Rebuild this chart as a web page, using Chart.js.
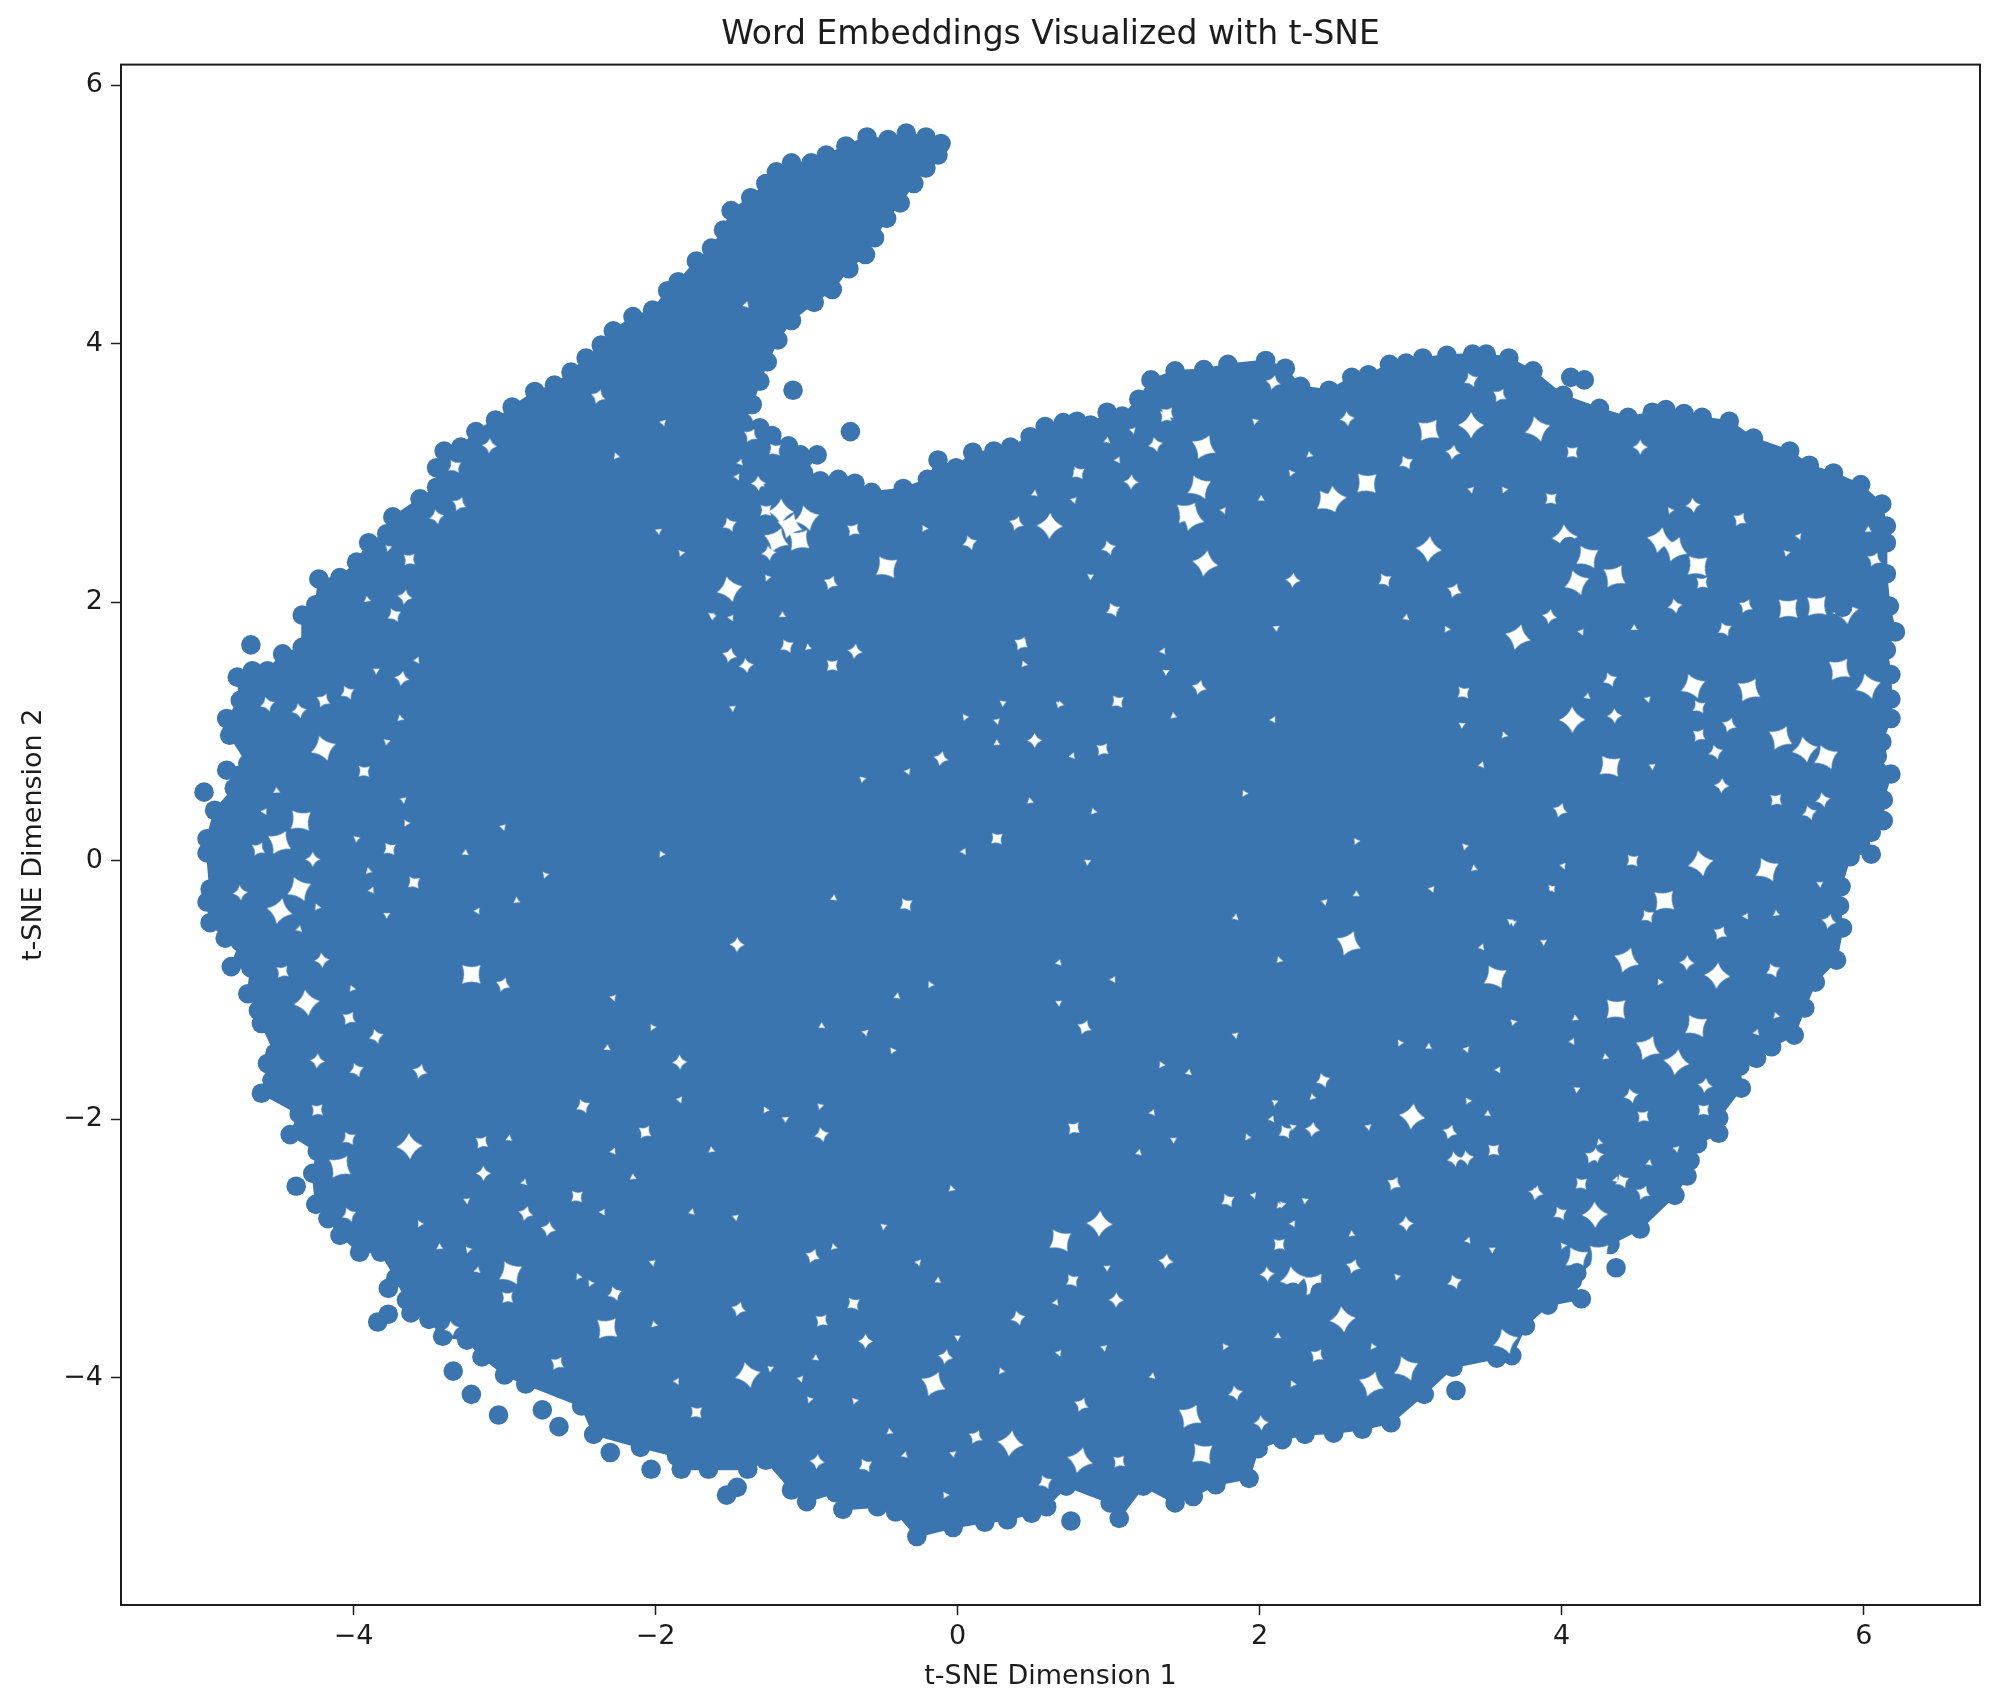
<!DOCTYPE html>
<html>
<head>
<meta charset="utf-8">
<title>Word Embeddings Visualized with t-SNE</title>
<script src="https://cdn.jsdelivr.net/npm/chart.js@4"></script>
<style>
  html, body { margin: 0; padding: 0; background: #fff; }
  canvas { display: block; }
</style>
</head>
<body>
<canvas id="tsneChart" width="1994" height="1696"></canvas>
<script>
// Tick positions for both axes
const xTickValues = [-4, -2, 0, 2, 4, 6];
const yTickValues = [-4, -2, 0, 2, 4, 6];

// Points read along the rim of the cloud, clockwise from the tip of the finger.
// The middle is too dense to read one by one, so the rim is also filled as a shape.
const rimPoints = [
  [-0.11,5.55],[-0.13,5.46],[-0.21,5.36],[-0.29,5.24],[-0.38,5.09],[-0.47,4.97],[-0.55,4.82],[-0.61,4.69],[-0.72,4.58],[-0.83,4.42],
  [-0.95,4.32],[-1.10,4.18],[-1.19,4.03],[-1.26,3.86],[-1.31,3.71],[-1.36,3.53],[-1.42,3.39],[-1.31,3.35],[-1.23,3.29],[-1.12,3.21],
  [-1.04,3.14],[-0.93,3.14],[-1.02,3.00],[-0.91,2.94],[-0.79,2.95],[-0.68,2.92],[-0.57,2.85],[-0.36,2.88],[-0.20,2.95],[-0.13,3.10],
  [-0.01,3.04],[0.10,3.16],[0.24,3.17],[0.35,3.20],[0.48,3.28],[0.58,3.36],[0.70,3.39],[0.79,3.40],[0.88,3.37],[0.99,3.47],
  [1.09,3.44],[1.20,3.57],[1.28,3.72],[1.44,3.79],[1.63,3.80],[1.79,3.84],[2.04,3.87],[2.17,3.81],[2.27,3.67],[2.46,3.64],
  [2.61,3.74],[2.72,3.76],[2.86,3.84],[2.97,3.85],[3.08,3.89],[3.24,3.91],[3.41,3.92],[3.50,3.92],[3.65,3.89],[3.81,3.79],
  [4.01,3.60],[4.25,3.50],[4.44,3.43],[4.60,3.47],[4.69,3.49],[4.81,3.46],[4.93,3.43],[5.11,3.40],[5.27,3.27],[5.51,3.17],
  [5.64,3.06],[5.80,3.00],[5.98,2.91],[6.12,2.76],[6.15,2.59],[6.15,2.46],[6.15,2.22],[6.17,1.97],[6.21,1.77],[6.15,1.63],
  [6.18,1.44],[6.18,1.25],[6.18,1.10],[6.12,0.92],[6.09,0.81],[6.18,0.67],[6.13,0.47],[6.13,0.31],[6.05,0.22],[5.98,0.12],[5.91,0.03],[5.85,-0.20],
  [5.84,-0.35],[5.86,-0.52],[5.82,-0.77],[5.68,-0.94],[5.61,-1.14],[5.54,-1.35],[5.39,-1.44],[5.29,-1.53],[5.18,-1.59],[5.19,-1.76],
  [5.04,-1.99],[5.04,-2.11],[4.90,-2.19],[4.85,-2.32],[4.83,-2.44],[4.75,-2.59],[4.52,-2.85],[4.32,-2.97],[4.07,-3.25],[4.13,-3.39],
  [3.91,-3.44],[3.76,-3.60],[3.67,-3.83],[3.57,-3.85],[3.28,-3.92],[3.09,-4.13],[2.87,-4.35],[2.68,-4.40],[2.49,-4.43],[2.30,-4.44],
  [2.15,-4.48],[1.99,-4.55],[1.93,-4.78],[1.71,-4.83],[1.56,-4.92],[1.44,-4.97],[1.23,-4.84],[1.07,-5.09],[1.01,-4.97],[0.72,-4.84],
  [0.59,-5.00],[0.49,-5.05],[0.33,-5.10],[0.18,-5.12],[-0.03,-5.16],[-0.27,-5.23],[-0.41,-5.04],[-0.53,-5.00],[-0.76,-5.02],[-0.81,-4.89],
  [-1.00,-4.96],[-1.10,-4.87],[-1.27,-4.64],[-1.39,-4.71],[-1.65,-4.71],[-1.83,-4.71],[-1.86,-4.61],[-2.10,-4.54],[-2.41,-4.44],[-2.49,-4.22],
  [-2.86,-4.05],[-3.00,-3.98],[-3.15,-3.84],[-3.25,-3.71],[-3.41,-3.68],[-3.50,-3.55],[-3.62,-3.50],[-3.65,-3.40],[-3.72,-3.23],[-3.82,-3.03],
  [-3.96,-3.03],[-4.09,-2.90],[-4.17,-2.77],[-4.25,-2.66],[-4.27,-2.42],[-4.24,-2.25],[-4.42,-2.12],[-4.36,-1.96],[-4.61,-1.80],[-4.54,-1.70],
  [-4.57,-1.57],[-4.52,-1.49],[-4.61,-1.26],[-4.63,-1.16],[-4.70,-1.03],[-4.68,-0.83],[-4.81,-0.82],[-4.75,-0.63],[-4.85,-0.60],[-4.95,-0.48],
  [-4.97,-0.32],[-4.95,-0.22],[-4.97,0.06],[-4.97,0.17],[-4.92,0.39],[-4.79,0.56],[-4.84,0.70],[-4.70,0.75],[-4.82,0.97],[-4.84,1.10],
  [-4.75,1.24],[-4.77,1.42],[-4.67,1.47],[-4.57,1.47],[-4.47,1.60],[-4.34,1.65],[-4.34,1.90],[-4.25,1.98],[-4.23,2.18],[-4.09,2.19],
  [-3.98,2.31],[-3.90,2.46],[-3.78,2.53],[-3.74,2.66],[-3.56,2.80],[-3.45,2.89],[-3.45,3.04],[-3.40,3.17],[-3.29,3.20],[-3.19,3.32],
  [-3.06,3.41],[-2.95,3.51],[-2.80,3.63],[-2.67,3.68],[-2.56,3.78],[-2.46,3.89],[-2.36,3.99],[-2.28,4.10],[-2.15,4.21],[-2.02,4.26],
  [-1.92,4.41],[-1.85,4.48],[-1.73,4.64],[-1.63,4.74],[-1.55,4.88],[-1.50,5.03],[-1.37,5.13],[-1.27,5.24],[-1.20,5.33],[-1.10,5.40],
  [-0.97,5.40],[-0.87,5.46],[-0.74,5.53],[-0.60,5.60],[-0.46,5.58],[-0.34,5.63],[-0.21,5.60]
];

// Points standing clear of the mass, plus a few sitting inside the open holes
const strayPoints = [
  [4.15,3.72],[4.06,3.74],[6.05,0.05],[5.03,-1.82],[4.36,-3.15],[3.30,-4.10],[0.75,-5.11],[-2.03,-4.71],[-2.30,-4.58],[-2.64,-4.38],
  [-2.75,-4.25],[-3.04,-4.29],[-3.22,-4.13],[-3.34,-3.95],[-1.46,-4.85],[-1.53,-4.91],[-3.84,-3.57],[-3.77,-3.51],[-3.77,-3.31],[-4.38,-2.52],
  [-4.99,0.53],[-4.68,1.67],[-1.09,3.64],[-0.71,3.32],[4.05,2.43],[4.35,2.35],[5.86,1.96],[5.82,1.14],[4.10,-3.19],[3.75,-3.32],
  [2.22,-3.34],[2.40,-3.34]
];

// Open holes in the cloud, by rough size
const largeHoles = [
  [3.40,3.37],[3.12,3.33],[3.84,3.34],[4.75,2.41],[4.17,2.35],[3.12,2.41],[5.69,1.97],[5.61,0.86],[1.63,3.20],[1.60,2.89],
  [1.64,2.30],[2.71,2.92],[2.49,2.80],[5.24,1.32],[4.87,1.35],[3.71,1.73],[4.32,0.73],[4.07,1.09],[5.84,1.48],[6.03,1.35],
  [4.43,-0.77],[4.89,-1.28],[5.03,-0.89],[4.68,-0.31],[4.92,-0.02],[4.57,-1.45],[5.36,-0.07],[4.76,-1.56],[4.36,-1.15],[2.55,-3.55],
  [1.54,-4.30],[2.97,-3.93],[0.81,-4.64],[1.62,-4.59],[4.22,-2.74],[2.36,-3.28],[3.63,-3.72],[2.74,-4.05],[0.68,-2.94],[0.94,-2.81],
  [-2.32,-3.62],[-1.39,-3.98],[-0.16,-4.05],[-2.96,-3.19],[0.35,-4.51],[-3.22,-0.88],[-4.31,-1.10],[-4.49,0.14],[-4.36,-0.22],[-4.49,-0.39],
  [-4.35,0.31],[-3.63,-2.21],[-4.09,-2.37],[-4.20,0.87],[-1.11,2.59],[-0.47,2.27],[0.61,2.59],[1.52,2.69],[-1.51,2.10],[2.59,-0.64],
  [3.56,-0.90],[3.01,-1.98],[5.50,1.95],[5.88,1.93],[5.45,0.95],[5.75,0.80],[4.65,2.48],[4.90,2.28],[4.02,2.50],[4.35,2.20],
  [4.10,2.15],[1.55,2.65],[2.45,2.78],[-1.17,2.70],[-1.05,2.48],[-1.00,2.65],[-1.20,2.48],[4.10,-3.08],[4.25,-3.25],[4.25,-3.05],
  [2.22,-3.24]
];
const mediumHoles = [
  [4.52,3.20],[1.39,3.46],[1.00,2.42],[3.29,2.09],[2.83,2.17],[2.22,2.17],[4.93,2.15],[4.75,1.97],[5.22,1.97],[5.08,1.79],
  [3.92,1.89],[3.93,2.80],[4.87,2.75],[5.18,2.64],[4.32,1.40],[1.60,1.34],[1.06,1.23],[0.51,0.93],[0.96,0.86],[5.02,0.84],
  [5.11,1.05],[4.91,1.19],[5.06,0.58],[5.42,0.47],[5.73,0.47],[6.07,2.33],[2.97,3.08],[3.28,3.16],[4.07,3.16],[2.58,3.42],
  [3.59,3.60],[3.40,3.72],[2.09,3.70],[3.35,1.30],[4.35,1.12],[4.91,0.97],[5.64,0.37],[3.99,0.39],[4.57,-0.43],[4.83,-0.79],
  [4.54,-1.98],[4.46,-1.82],[4.54,-2.57],[3.99,-2.73],[4.95,-1.74],[4.94,-1.93],[4.23,-2.28],[5.05,-0.56],[5.40,-0.85],[5.77,-0.47],
  [4.47,0.00],[2.97,-2.81],[2.38,-3.83],[3.29,-3.26],[2.62,-3.14],[0.76,-3.25],[1.05,-3.40],[1.07,-4.65],[1.84,-4.12],[0.82,-4.21],
  [1.79,-2.63],[1.38,-3.10],[2.13,-2.97],[3.29,-2.31],[2.89,-2.50],[4.40,-2.48],[3.83,-2.57],[4.13,-2.50],[2.01,-4.35],[-2.65,-3.89],
  [-2.27,-3.35],[-1.45,-3.47],[-0.69,-3.43],[-0.61,-3.72],[-0.90,-3.56],[0.40,-3.54],[-0.96,-3.06],[-0.61,-4.68],[-0.93,-4.65],[-2.98,-3.38],
  [-3.35,-3.62],[0.12,-4.46],[0.58,-4.81],[-0.08,-3.84],[-1.73,-4.27],[-4.21,-0.77],[-4.03,-1.22],[-3.98,-1.62],[-3.56,-1.63],[-3.76,0.09],
  [-4.27,0.01],[-4.47,-0.86],[-3.85,-1.36],[-3.01,-0.96],[-4.03,-2.15],[-4.24,-1.55],[-4.24,-1.93],[-4.36,1.16],[-4.20,1.24],[-4.04,1.30],
  [-3.68,1.41],[-3.93,0.69],[-4.75,-0.25],[-4.63,0.09],[-4.03,-2.74],[-2.86,-2.73],[-3.60,-0.17],[-3.14,-2.42],[-3.15,-2.18],[-4.57,1.21],
  [-2.38,3.59],[-3.33,3.05],[-3.10,3.21],[-3.63,2.33],[-3.45,2.66],[-3.30,2.76],[-3.73,1.90],[-3.66,2.04],[-1.27,2.71],[-1.25,2.38],
  [-1.37,3.29],[-1.51,2.60],[-1.51,1.59],[-1.21,3.18],[-1.32,2.92],[-0.69,2.56],[0.08,2.46],[0.39,2.61],[0.80,3.00],[1.15,2.93],
  [1.38,3.44],[1.31,3.22],[-0.84,2.15],[-1.13,1.66],[-0.68,1.62],[-0.83,1.51],[-1.40,1.51],[0.42,1.68],[1.03,1.94],[-0.11,0.79],
  [0.26,0.17],[-1.84,-1.56],[-2.07,-2.10],[2.42,-1.70],[3.26,-2.10],[-0.34,-0.34],[-1.46,-0.65],[0.77,-2.07],[-0.90,-2.12],[0.84,-1.29],
  [2.17,-2.10],[2.35,-2.08],[3.55,-2.24],[3.37,-2.30],[4.20,-2.29],[-2.48,-1.90],[-2.71,-2.85],[-2.52,-2.60],[2.05,-3.20]
];
const smallHoles = [
  [0.78,3.00],[0.51,2.84],[0.77,2.79],[2.21,3.00],[2.01,2.80],[1.76,2.71],[1.97,3.40],[2.33,3.14],[1.06,3.10],[0.88,2.20],
  [1.04,1.94],[0.44,1.69],[2.11,1.80],[3.24,1.79],[2.97,1.88],[3.40,2.87],[3.62,2.87],[4.48,1.80],[4.13,1.77],[0.67,1.21],
  [1.43,1.12],[2.09,1.09],[3.34,1.05],[3.62,0.97],[3.47,0.74],[4.60,0.73],[1.90,0.52],[4.17,1.27],[4.57,1.25],[4.72,2.71],
  [6.03,2.56],[5.57,2.51],[5.49,2.38],[4.29,-1.52],[4.07,-1.40],[4.10,-1.77],[5.42,-1.20],[5.29,-1.33],[5.71,-0.18],[4.65,-0.94],
  [4.58,-2.34],[4.76,-2.23],[4.01,-2.98],[3.82,-2.56],[4.01,-0.04],[3.93,-0.21],[5.42,-0.41],[5.22,-0.43],[3.68,-0.48],[4.25,-2.18],
  [4.36,-2.47],[0.99,-3.15],[2.22,-4.05],[1.29,-3.99],[0.97,-3.77],[1.77,-3.76],[2.12,-3.68],[0.67,-3.81],[2.91,-3.22],[2.61,-2.89],
  [2.22,-2.81],[2.30,-2.63],[2.13,-2.67],[3.38,-2.94],[3.54,-3.01],[2.75,-3.76],[-3.18,-3.17],[-2.02,-3.11],[-2.43,-3.27],[-0.13,-3.25],
  [-0.26,-3.11],[-0.68,-4.18],[-0.45,-4.42],[-1.86,-4.03],[-1.24,-3.93],[-2.01,-3.59],[0.65,-3.42],[0.00,-3.69],[0.29,-3.95],[-0.35,-4.60],
  [-0.03,-4.59],[-0.08,-4.91],[-0.94,-3.85],[-1.04,-4.01],[-0.98,-4.17],[-4.51,0.54],[-4.59,0.38],[-3.98,0.17],[-3.90,-0.08],[-3.88,-0.23],
  [-3.78,-0.42],[-4.24,-0.36],[-4.36,-0.53],[-3.67,0.47],[-3.65,0.29],[-3.26,0.06],[-3.01,0.26],[-2.73,-0.11],[-2.92,-0.31],[-3.18,-0.39],
  [-3.78,0.92],[-3.69,1.10],[-3.58,1.55],[-3.85,1.47],[-4.01,-0.99],[-2.87,-2.49],[-3.25,-2.63],[-3.56,-2.81],[-2.97,-2.15],[-1.95,3.39],
  [-1.83,2.38],[-1.30,2.91],[-1.46,2.97],[-3.77,2.42],[-3.91,2.02],[-1.22,3.17],[-1.63,1.90],[-2.26,3.13],[-1.40,4.30],[-1.98,2.55],
  [-0.22,2.57],[0.99,3.25],[1.16,3.33],[-1.26,2.19],[-1.16,1.90],[-1.50,1.88],[-1.62,1.89],[-0.99,1.65],[1.36,1.62],[1.38,1.46],
  [0.44,1.52],[-1.44,3.08],[-1.49,1.18],[-1.96,0.05],[-0.82,-0.29],[0.26,1.08],[0.05,1.11],[0.26,0.91],[-0.33,0.69],[-0.63,0.63],
  [0.48,0.46],[0.04,0.07],[0.86,-0.01],[0.90,0.38],[0.67,-0.79],[0.67,-1.10],[-0.18,-0.96],[-0.40,-1.05],[-0.61,-1.33],[-0.43,-1.47],
  [-0.90,-1.28],[-1.84,-1.85],[-0.91,-1.90],[-1.63,-2.24],[1.03,-0.92],[0.30,1.22],[0.68,1.21],[0.76,0.81],[-1.14,-2.00],[-1.27,-1.93],
  [1.84,-0.44],[2.43,-0.32],[2.64,0.15],[2.64,-0.26],[3.14,-0.22],[3.36,0.11],[3.42,-0.06],[3.94,-0.22],[3.66,-0.47],[2.13,-0.77],
  [3.47,-0.67],[3.88,-0.63],[1.35,-1.58],[1.53,-1.64],[1.84,-1.35],[2.93,-1.41],[3.12,-1.44],[3.37,-1.46],[3.68,-1.25],[4.09,-1.22],
  [3.58,-1.62],[2.10,-1.87],[2.35,-1.83],[1.29,-1.95],[1.43,-2.16],[1.92,-2.14],[1.20,-2.26],[2.72,-2.06],[3.38,-1.86],[3.51,-1.96],
  [1.96,-2.59],[2.15,-2.66],[-2.15,-2.45],[-2.35,-2.72],[-0.49,-2.83],[-0.82,-2.99],[-2.28,-2.25],[-2.26,-3.34],[-2.51,-3.22],[-1.76,-2.72],
  [-1.47,-2.76],[-2.02,-1.29],[-2.32,-1.45],[-2.28,-1.06],[-3.24,-3.01],[-3.43,-2.99],[0.78,-2.08],[2.22,-2.06],[-0.04,-2.54],[2.08,-2.00]
];

const pointColor = "#3b75af";
const inkColor = "#1c1c1c";
const fontFamily = "'DejaVu Sans', sans-serif";

function toXY(list) {
  return list.map(p => ({ x: p[0], y: p[1] }));
}

// The gaps between overlapping circles have curved, pointed sides, not round ones
function cuspShape(radius, tips, pinch) {
  const size = Math.ceil(radius * 2) + 2;
  const shape = document.createElement("canvas");
  shape.width = size;
  shape.height = size;
  const c = shape.getContext("2d");
  c.translate(size / 2, size / 2);
  c.fillStyle = "#ffffff";
  c.beginPath();
  for (let i = 0; i < tips; i++) {
    const a = (i / tips) * Math.PI * 2;
    const mid = a + Math.PI / tips;
    const next = a + (Math.PI * 2) / tips;
    if (i === 0) c.moveTo(Math.cos(a) * radius, Math.sin(a) * radius);
    c.quadraticCurveTo(Math.cos(mid) * radius * pinch, Math.sin(mid) * radius * pinch, Math.cos(next) * radius, Math.sin(next) * radius);
  }
  c.fill();
  return shape;
}

function holeDataset(list, shape) {
  return {
    label: "holes",
    data: toXY(list),
    showLine: false,
    pointStyle: shape,
    pointRotation: ctx => ctx.dataIndex * 37,
    order: 2,
  };
}

// Chart.js has no four sided frame, so stroke the plot area
const frame = {
  id: "frame",
  afterDraw(chart) {
    const a = chart.chartArea;
    const c = chart.ctx;
    c.save();
    c.strokeStyle = inkColor;
    c.lineWidth = 2;
    c.strokeRect(a.left, a.top, a.right - a.left, a.bottom - a.top);
    c.restore();
  },
};

function minusLabel(value) {
  return String(value).replace("-", "\u2212");
}

new Chart(document.getElementById("tsneChart"), {
  type: "scatter",
  data: {
    datasets: [
      {
        label: "strays",
        data: toXY(strayPoints),
        backgroundColor: pointColor,
        pointRadius: 9.8,
        pointBorderWidth: 0,
        order: 1,
      },
      holeDataset(largeHoles, cuspShape(13, 4, 0.42)),
      holeDataset(mediumHoles, cuspShape(7.5, 4, 0.35)),
      holeDataset(smallHoles, cuspShape(4, 3, 0.3)),
      {
        label: "rim",
        data: toXY(rimPoints),
        showLine: true,
        fill: "shape",
        borderColor: pointColor,
        borderWidth: 2,
        backgroundColor: pointColor,
        pointBackgroundColor: pointColor,
        pointRadius: 9.8,
        pointBorderWidth: 0,
        tension: 0,
        order: 3,
      },
    ],
  },
  plugins: [frame],
  options: {
    responsive: false,
    animation: false,
    events: [],
    layout: { padding: { left: 18, right: 14, top: 0, bottom: 0 } },
    plugins: {
      legend: { display: false },
      tooltip: { enabled: false },
      title: {
        display: true,
        fullSize: false,
        text: "Word Embeddings Visualized with t-SNE",
        color: inkColor,
        font: { family: fontFamily, size: 33, weight: "normal", lineHeight: 1.2 },
        padding: { top: 16, bottom: 9 },
      },
    },
    scales: {
      x: {
        type: "linear",
        min: -5.54,
        max: 6.77,
        afterFit(scale) { scale.height = 91; },
        afterBuildTicks(scale) { scale.ticks = xTickValues.map(v => ({ value: v })); },
        border: { color: inkColor, width: 2 },
        grid: { drawOnChartArea: false, tickLength: 10, tickColor: inkColor, tickWidth: 1.5 },
        ticks: {
          autoSkip: false,
          maxRotation: 0,
          padding: 6,
          color: inkColor,
          font: { family: fontFamily, size: 27 },
          callback: minusLabel,
        },
        title: {
          display: true,
          text: "t-SNE Dimension 1",
          color: inkColor,
          font: { family: fontFamily, size: 27 },
          padding: { top: 4, bottom: 3 },
        },
      },
      y: {
        type: "linear",
        min: -5.76,
        max: 6.16,
        afterFit(scale) { scale.width = 103; },
        afterBuildTicks(scale) { scale.ticks = yTickValues.map(v => ({ value: v })); },
        border: { color: inkColor, width: 2 },
        grid: { drawOnChartArea: false, tickLength: 10, tickColor: inkColor, tickWidth: 1.5 },
        ticks: {
          autoSkip: false,
          padding: 8,
          color: inkColor,
          font: { family: fontFamily, size: 27 },
          callback: minusLabel,
        },
        title: {
          display: true,
          text: "t-SNE Dimension 2",
          color: inkColor,
          font: { family: fontFamily, size: 27 },
          padding: { top: 0, bottom: 4 },
        },
      },
    },
  },
});
</script>
</body>
</html>
